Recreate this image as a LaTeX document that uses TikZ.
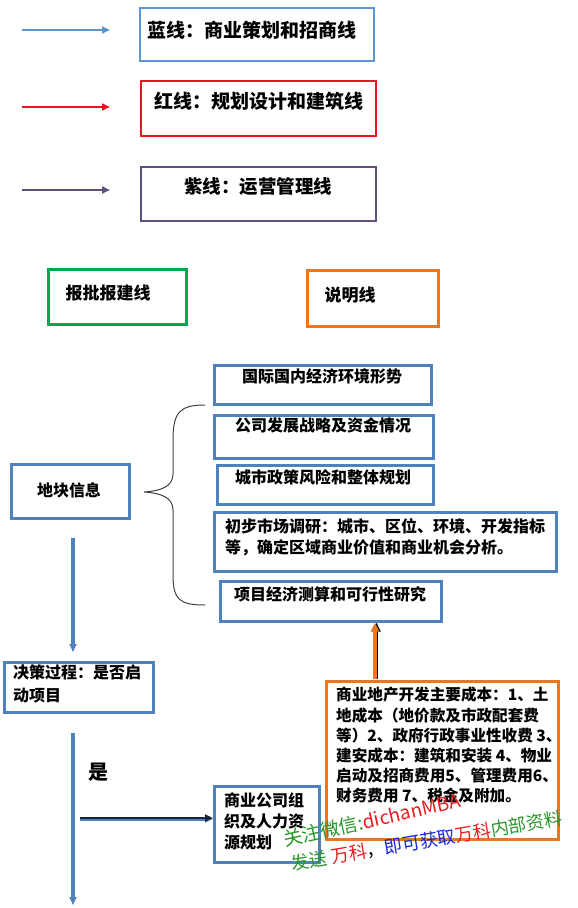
\documentclass[tikz,border=0pt]{standalone}
\usepackage{fontspec}
\setmainfont{Noto Sans CJK SC}
\usetikzlibrary{arrows.meta}
\definecolor{bl}{RGB}{79,129,189}
\definecolor{lbl}{RGB}{91,150,210}
\definecolor{rd}{RGB}{235,20,30}
\definecolor{pu}{RGB}{96,80,128}
\definecolor{gr}{RGB}{0,168,80}
\definecolor{org}{RGB}{232,118,34}
\definecolor{nav}{RGB}{25,35,60}
\definecolor{wmg}{RGB}{40,150,40}
\definecolor{wmr}{RGB}{230,30,30}
\definecolor{wmb}{RGB}{20,40,220}
\begin{document}
\begin{tikzpicture}[x=1pt,y=-1pt,
  box/.style={draw=bl, line width=2.7pt, inner sep=0pt, anchor=north west},
  txt/.style={font=\fontsize{16}{21}\selectfont\bfseries, inner sep=0pt},
  big/.style={font=\fontsize{19}{22}\selectfont\bfseries, inner sep=0pt},
  mid/.style={font=\fontsize{17}{20}\selectfont\bfseries, inner sep=0pt},
  tip/.style={-{Triangle[length=8pt,width=7pt]}},
  wm/.style={font=\fontsize{19}{22}\selectfont, inner sep=0pt}]
\useasboundingbox (0,0) rectangle (578,908);
% legend
\coordinate (la1) at (22,30);  \coordinate (lb1) at (110,30);
\coordinate (la2) at (22,107); \coordinate (lb2) at (110,107);
\coordinate (la3) at (22,190); \coordinate (lb3) at (110,190);
\draw[lbl, line width=2pt, tip] (la1) -- (lb1);
\draw[rd, line width=2.2pt, tip] (la2) -- (lb2);
\draw[pu, line width=2.2pt, tip] (la3) -- (lb3);
\node[box, draw=lbl, line width=2.4pt, minimum width=234pt, minimum height=53pt] (blue) at (139,7) {};
\node[big] (bluet) at (252,30) {蓝线：商业策划和招商线};
\node[box, draw=rd, line width=2.4pt, minimum width=235pt, minimum height=55pt] (red) at (140,80) {};
\node[big] (redt) at (259,101) {红线：规划设计和建筑线};
\node[box, draw=pu, line width=2.4pt, minimum width=235pt, minimum height=54pt] (pur) at (140,166) {};
\node[big, font=\fontsize{18.5}{22}\selectfont\bfseries] (purt) at (258,187) {紫线：运营管理线};
\node[box, draw=gr, line width=2.6pt, minimum width=138pt, minimum height=55pt] (green) at (47,268) {};
\node[mid] (greent) at (108,293) {报批报建线};
\node[box, draw=org, line width=2.6pt, minimum width=131pt, minimum height=56pt] (orng) at (306,269) {};
\node[mid] (orngt) at (350,295) {说明线};
% information boxes
\node[box, minimum width=217pt, minimum height=39pt] (b1) at (213,364) {};
\node[txt] (b1t) at (322,376) {国际国内经济环境形势};
\node[box, minimum width=219pt, minimum height=43pt] (b2) at (213,414) {};
\node[txt] (b2t) at (323,425) {公司发展战略及资金情况};
\node[box, minimum width=216pt, minimum height=39pt] (b3) at (216,464) {};
\node[txt] (b3t) at (323,477) {城市政策风险和整体规划};
\node[box, minimum width=342pt, minimum height=59pt] (b4) at (213,511) {};
\node[txt, anchor=north west, align=left] (b4t) at (225,518) {初步市场调研：城市、区位、环境、开发指标\\等，确定区域商业价值和商业机会分析。};
\node[box, minimum width=221pt, minimum height=40pt] (b5) at (219,580) {};
\node[txt] (b5t) at (330,594) {项目经济测算和可行性研究};
% brace
\draw[black!75, line width=1pt] (205,405) .. controls (180,405) and (173,412) .. (173,440)
  -- (173,474) .. controls (173,487) and (160,491) .. (144,492)
  .. controls (160,493) and (173,497) .. (173,510)
  -- (173,575) .. controls (173,600) and (180,605) .. (205,605);
% left chain
\node[box, minimum width=118pt, minimum height=54pt] (land) at (10,463) {};
\node[txt] (landt) at (69,490) {地块信息};
\node[box, minimum width=149pt, minimum height=50pt] (dec) at (3,661) {};
\node[txt, anchor=north west, align=left, font=\fontsize{16}{23}\selectfont\bfseries] (dect) at (13,664) {决策过程：是否启\\动项目};
\coordinate (landb) at (73,538);
\coordinate (dectop) at (73,652);
\draw[bl, line width=3.2pt, tip] (landb) -- (dectop);
\coordinate (decb) at (73,733);
\coordinate (bottom) at (73,905);
\draw[bl, line width=3.2pt, tip] (decb) -- (bottom);
\node[font=\fontsize{20}{22}\selectfont\bfseries, inner sep=0pt] (yes) at (98,772) {是};
\node[box, minimum width=105pt, minimum height=76pt] (org) at (213,785) {};
\node[txt, anchor=north west, align=left] (orgt) at (224,792) {商业公司组\\织及人力资\\源规划};
\coordinate (hstart) at (80,818);
\draw[bl, line width=3.4pt, tip] ([yshift=-0.8pt]hstart) -- ([yshift=-0.8pt]org.west |- hstart);
\draw[nav, line width=2.4pt, tip] (hstart) -- (org.west |- hstart);
% cost box
\node[box, draw=org, line width=2.6pt, minimum width=232pt, minimum height=158pt] (cost) at (325,680) {};
\node[txt, anchor=north west, align=left, font=\fontsize{15.6}{20.2}\selectfont\bfseries] (costt) at (336,687) {商业地产开发主要成本：1、土\\地成本（地价款及市政配套费\\等）2、政府行政事业性收费 3、\\建安成本：建筑和安装 4、物业\\启动及招商费用5、管理费用6、\\财务费用 7、税金及附加。};
\coordinate (costtop) at (375,679);
\draw[black, line width=2pt, -{Triangle[length=9pt,width=8pt]}] ([xshift=1.6pt]costtop) -- ([xshift=1.6pt]b5.south -| costtop);
\draw[org, line width=3.2pt, -{Triangle[length=9pt,width=8pt]}] (costtop) -- (b5.south -| costtop);
% watermark
\node[wm, rotate=12.5] (wm1) at (372,820) {\textcolor{wmg}{关注微信:}\textcolor{wmr}{dichanMBA}};
\node[wm, rotate=9.5, font=\fontsize{18}{22}\selectfont] (wm2) at (427,841) {\textcolor{wmg}{发送} \textcolor{wmr}{万科}，\textcolor{wmb}{即可获取}\textcolor{wmr}{万科}\textcolor{wmg}{内部资料}};
\end{tikzpicture}
\end{document}
